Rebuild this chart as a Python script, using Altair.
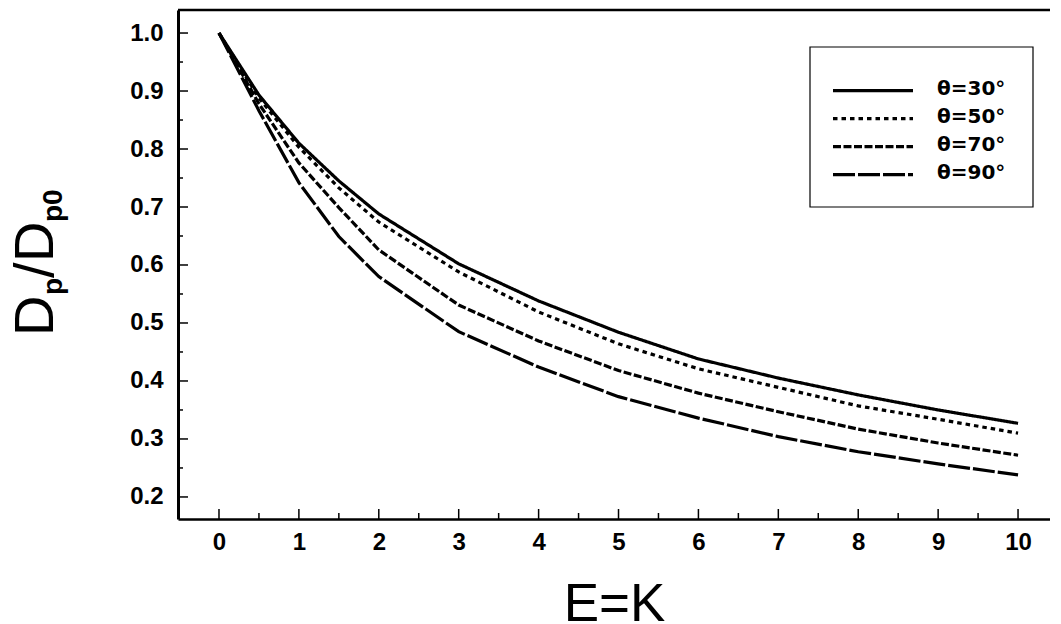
import altair as alt
import pandas as pd

# ---- data ----
x_vals = [0, 0.5, 1, 1.5, 2, 3, 4, 5, 6, 7, 8, 9, 10]
theta30 = [1.0, 0.893, 0.810, 0.745, 0.688, 0.602, 0.538, 0.484, 0.438, 0.405, 0.376, 0.350, 0.327]
theta50 = [1.0, 0.888, 0.803, 0.733, 0.674, 0.588, 0.519, 0.464, 0.421, 0.389, 0.357, 0.334, 0.310]
theta70 = [1.0, 0.878, 0.776, 0.699, 0.626, 0.531, 0.469, 0.418, 0.379, 0.347, 0.317, 0.293, 0.272]
theta90 = [1.0, 0.866, 0.742, 0.649, 0.580, 0.485, 0.424, 0.373, 0.336, 0.304, 0.278, 0.257, 0.238]
series_names = ["θ=30°", "θ=50°", "θ=70°", "θ=90°"]
dash_styles = [[1, 0], [4.5, 4], [8, 2.5], [22, 3]]

x_ticks = list(range(0, 11))
x_minor = [i + 0.5 for i in range(10)]
y_ticks = [0.2, 0.3, 0.4, 0.5, 0.6, 0.7, 0.8, 0.9, 1.0]
y_minor = [0.25, 0.35, 0.45, 0.55, 0.65, 0.75, 0.85, 0.95]

rows = []
for name, vals in zip(series_names, [theta30, theta50, theta70, theta90]):
    for xv, yv in zip(x_vals, vals):
        rows.append({"E": xv, "D": yv, "series": name})
df = pd.DataFrame(rows)
leg_df = pd.DataFrame({"series": series_names, "idx": list(range(len(series_names)))})

W, H = 872, 509
FONT = "Liberation Sans"
xscale = alt.Scale(domain=[-0.513, 10.40], nice=False, zero=False)
yscale = alt.Scale(domain=[0.162, 1.0397], nice=False, zero=False)
dash_scale = alt.Scale(domain=series_names, range=dash_styles)

lines = alt.Chart(df).mark_line(color="black", strokeWidth=3.2, strokeCap="butt").encode(
    x=alt.X("E:Q", scale=xscale, axis=alt.Axis(
        orient="bottom",
        values=x_ticks, ticks=False, tickSize=0, grid=False, domainColor="black", domainWidth=2.6,
        labelFont=FONT, labelFontWeight="bold", labelFontSize=24, labelColor="black",
        labelPadding=11, labelOverlap=False, labelFlush=False,
        title="E=K", titleFont=FONT, titleFontSize=53, titleFontWeight="normal",
        titleColor="black", titleY=101, titleBaseline="alphabetic")),
    y=alt.Y("D:Q", scale=yscale, axis=alt.Axis(
        orient="left",
        values=y_ticks, format=".1f", ticks=False, tickSize=0, grid=False,
        domainColor="black", domainWidth=3,
        labelFont=FONT, labelFontWeight="bold", labelFontSize=24, labelColor="black",
        labelPadding=15, labelOverlap=False, labelFlush=False, title=None)),
    strokeDash=alt.StrokeDash("series:N", scale=dash_scale, legend=None),
    detail="series:N",
)

def xtick_layer(vals, length):
    return alt.Chart(pd.DataFrame({"E": vals})).mark_rule(color="black", strokeWidth=1.5).encode(
        x=alt.X("E:Q", scale=xscale, axis=None),
        y=alt.value(H), y2=alt.value(H - length))

def ytick_layer(vals, length):
    return alt.Chart(pd.DataFrame({"D": vals})).mark_rule(color="black", strokeWidth=1.5).encode(
        y=alt.Y("D:Q", scale=yscale, axis=None),
        x=alt.value(0), x2=alt.value(length))

one = pd.DataFrame({"a": [0]})
top_border = alt.Chart(one).mark_rule(color="black", strokeWidth=2.5).encode(
    x=alt.value(0), x2=alt.value(W), y=alt.value(0))

def title_piece(txt, size, xpos, ypos, weight="normal"):
    return alt.Chart(one).mark_text(
        text=txt, font=FONT, fontSize=size, fontWeight=weight, color="black",
        angle=270, align="left", baseline="alphabetic").encode(
        x=alt.value(xpos), y=alt.value(ypos))

ytitle = [
    title_piece("D", 56, -125, 326),
    title_piece("p", 28, -116, 285, "bold"),
    title_piece("/", 56, -125, 268),
    title_piece("D", 56, -125, 252),
    title_piece("p0", 28, -116, 212, "bold"),
]

legend_box = alt.Chart(one).mark_rect(fill="white", stroke="black", strokeWidth=1.2).encode(
    x=alt.value(632), x2=alt.value(855), y=alt.value(37), y2=alt.value(197))

legend_lines = alt.Chart(leg_df).transform_calculate(
    ly="80.7 + 28 * datum.idx").mark_rule(color="black", strokeWidth=3.2, strokeCap="butt").encode(
    x=alt.value(655), x2=alt.value(735),
    y=alt.Y("ly:Q", scale=None, axis=None),
    strokeDash=alt.StrokeDash("series:N", scale=dash_scale, legend=None))

legend_text = alt.Chart(leg_df).transform_calculate(
    ty="85 + 28 * datum.idx").mark_text(
    align="left", baseline="alphabetic", font="DejaVu Sans", fontWeight="bold",
    fontSize=20, color="black").encode(
    x=alt.value(759), y=alt.Y("ty:Q", scale=None, axis=None), text="series:N")

chart = alt.layer(
    lines,
    xtick_layer(x_ticks, 10), xtick_layer(x_minor, 6),
    ytick_layer(y_ticks, 10), ytick_layer(y_minor, 5),
    top_border, *ytitle,
    legend_box, legend_lines, legend_text,
).resolve_axis(x="independent", y="independent").properties(
    width=W, height=H,
    autosize=alt.AutoSizeParams(type="none"),
    padding={"left": 170, "top": 2, "right": 0, "bottom": 104},
    background="white",
).configure_view(stroke=None)

chart.save("out.html", embed_options={"renderer": "svg", "actions": False})
